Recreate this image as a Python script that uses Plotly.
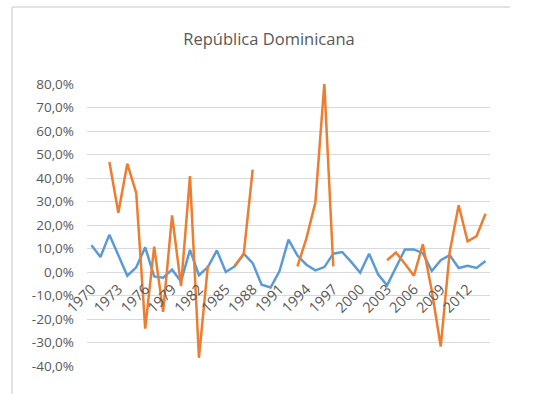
import plotly.graph_objects as go

years = list(range(1970, 2015))

serie_azul = [11.4, 6.4, 15.9, 7.0, -1.6, 2.0, 10.5, -1.9, -2.4, 1.0, -4.0, 9.4, -1.4, 2.1, 9.2,
              0.0, 2.4, 7.8, 3.8, -5.4, -6.6, 0.4, 13.8, 7.0, 3.1, 0.7, 2.1, 7.8, 8.5, 4.3,
              -0.3, 7.8, -1.0, -5.7, 2.1, 9.6, 9.6, 8.0, 0.4, 5.0, 7.2, 1.7, 2.6, 1.7, 4.7]

serie_naranja = [None, None, 46.8, 25.2, 46.1, 33.6, -24.1, 10.8, -17.0, 24.1, -6.0, 40.8, -36.5, 2.8, None,
                 None, 2.8, 7.6, 43.6, None, None, None, None, 2.4, 14.3, 29.6, 80.2, 2.4, None, None,
                 None, None, None, 5.0, 8.3, 3.5, -1.6, 11.8, -8.0, -31.7, 8.5, 28.4, 13.1, 15.3, 24.8]

y_ticks = [-40, -30, -20, -10, 0, 10, 20, 30, 40, 50, 60, 70, 80]
y_labels = [f"{v:.1f}".replace(".", ",") + "%" for v in y_ticks]

fig = go.Figure()
fig.add_trace(go.Scatter(x=years, y=serie_azul, mode="lines",
                         line=dict(color="#5B9BD5", width=2.5), connectgaps=False))
fig.add_trace(go.Scatter(x=years, y=serie_naranja, mode="lines",
                         line=dict(color="#ED7D31", width=2.5), connectgaps=False))

W, H = 535, 394
L, R, T, B = 87, 45, 84, 28
pw = W - L - R
ph = H - T - B

def px_x(p):
    return (p - L) / pw

def px_y(p):
    return (H - B - p) / ph

fig.update_layout(
    width=W, height=H,
    margin=dict(l=L, r=R, t=T, b=B),
    paper_bgcolor="white", plot_bgcolor="white",
    showlegend=False,
    font=dict(family="Open Sans", color="#595959", size=13),
    title=dict(text="República Dominicana", x=269 / W, xref="container", xanchor="center",
               y=1 - 39 / H, yref="container", yanchor="middle",
               font=dict(size=16.5, color="#595959")),
    xaxis=dict(range=[1969.5, 2014.5], tickmode="linear", tick0=1970, dtick=3,
               tickangle=-45, showgrid=False, zeroline=False, showline=False,
               anchor="free", position=40 / 120, ticks="", ticklabelstandoff=5,
               tickfont=dict(size=14.5)),
    yaxis=dict(range=[-40, 80], tickmode="array", tickvals=y_ticks, ticktext=y_labels,
               showgrid=True, gridcolor="#D9D9D9", gridwidth=1.3, zeroline=False,
               ticks="", ticklabelstandoff=12, tickfont=dict(size=13.5)),
    shapes=[
        dict(type="line", xref="paper", yref="paper", x0=px_x(12), x1=px_x(12),
             y0=px_y(7), y1=px_y(400), line=dict(color="#D9D9D9", width=1.5)),
        dict(type="line", xref="paper", yref="paper", x0=px_x(12), x1=px_x(510),
             y0=px_y(7), y1=px_y(7), line=dict(color="#D9D9D9", width=1.5)),
    ],
)

fig.write_html("out.html")
